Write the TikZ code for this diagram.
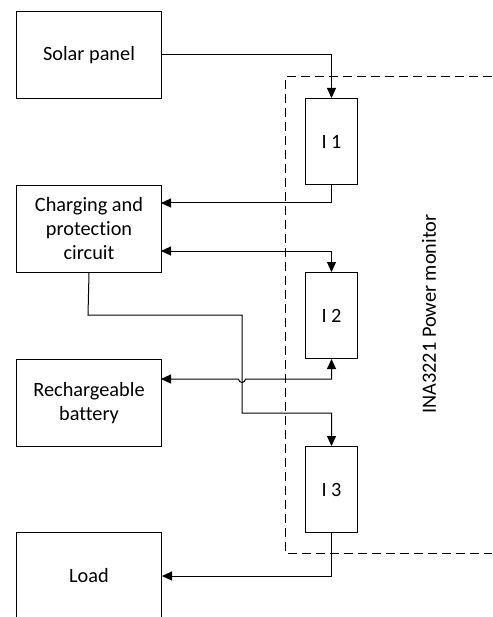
\documentclass[tikz,border=0pt]{standalone}
\usepackage{fontspec}
\setmainfont{Carlito}[Ligatures={NoCommon}]
\usetikzlibrary{arrows.meta}
\begin{document}
\begin{tikzpicture}[x=1pt,y=-1pt,
  box/.style={draw,line width=1pt,minimum width=145pt,minimum height=87pt,inner sep=0pt,align=center,font=\fontsize{20.3}{24}\selectfont,anchor=north west},
  meter/.style={draw,line width=1pt,minimum width=52pt,minimum height=86pt,inner sep=0pt,font=\fontsize{20.3}{24}\selectfont,anchor=north west},
  wire/.style={line width=1pt},
  tip/.style={-{Triangle[length=10pt,width=9pt]}},
  bitip/.style={{Triangle[length=10pt,width=9pt]}-{Triangle[length=10pt,width=9pt]}},
  frame/.style={dashed,dash pattern=on 9pt off 5pt,line width=1pt}]
\useasboundingbox (0,0) rectangle (492,617);
\fill[white] (0,0) rectangle (492,617);
\node[box] (sp) at (16,11) {Solar panel};
\node[box] (chg) at (16,185) {Charging and\\protection\\circuit};
\node[box] (bat) at (16,359) {Rechargeable\\battery};
\node[box] (load) at (16,532) {Load};
\node[meter] (i1) at (305,98) {I 1};
\node[meter] (i2) at (305,272) {I 2};
\node[meter] (i3) at (305,446) {I 3};
\coordinate (ft) at (492,77);
\coordinate (fb) at (492,553);
\draw[frame] (ft) -- (285,77) -- (285,553) -- (fb);
\node[rotate=90,font=\fontsize{20.3}{24}\selectfont] (mon) at (429,314) {INA3221 Power monitor};
% solar -> I1
\draw[wire,tip] (sp.east) -| (i1.north);
% I1 -> charging
\draw[wire,tip] (i1.south) |- (161,203);
% charging <-> I2
\draw[wire,bitip] (161,251) -| (i2.north);
% battery <-> I2 with hop
\draw[wire,bitip] (161,379) -- (238.5,379) arc[start angle=180,end angle=0,radius=3.5] -| (i2.south);
% charging -> I3
\draw[wire,tip] (chg.south) -- (88,315) -- (242,315) -- (242,413) -| (i3.north);
% I3 -> load
\draw[wire,tip] (i3.south) |- (load.east);
\end{tikzpicture}
\end{document}
